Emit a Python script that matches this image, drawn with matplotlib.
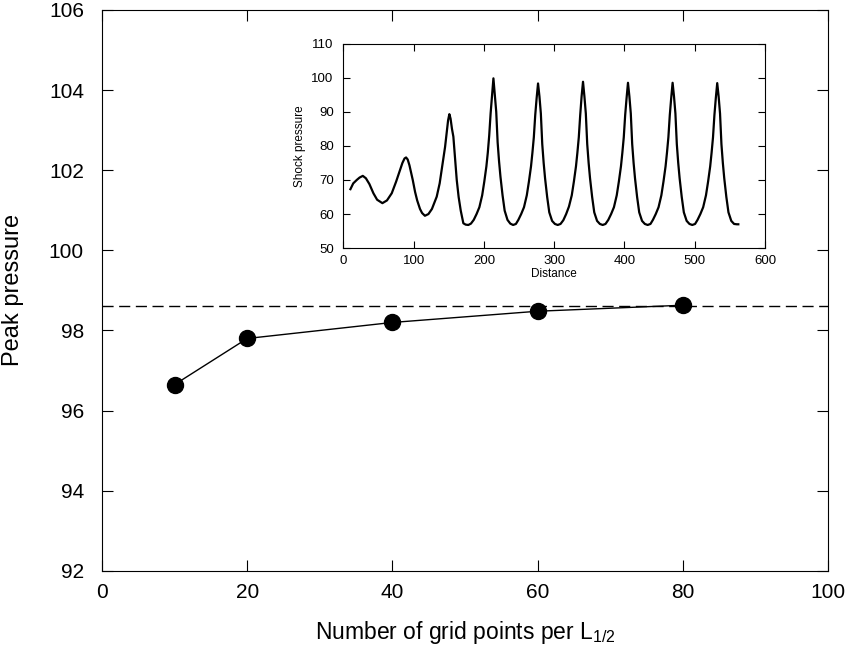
import matplotlib
matplotlib.use("Agg")
import matplotlib.pyplot as plt

plt.rcParams['font.family'] = ['Liberation Sans', 'DejaVu Sans']
plt.rcParams['mathtext.fontset'] = 'custom'
plt.rcParams['mathtext.rm'] = 'Liberation Sans'

# main data: peak pressure vs grid resolution
grid_points = [10, 20, 40, 60, 80]
peak_pressure = [96.65, 97.8, 98.2, 98.48, 98.63]
converged = 98.62

# inset data: shock pressure vs distance
distance = [10, 14, 19, 23, 27.6, 32, 37, 42.7, 48, 55.5, 62, 68.8, 75, 80, 84, 87, 89.2,
            91.5, 94, 96.5, 98.7, 102, 105, 109, 112, 116, 121, 126, 132.8, 137, 141,
            144.7, 147, 149, 150.8, 152.5, 154.5, 156.5, 159, 161.3, 164, 167, 170.7,
            174, 177.8, 181.5,
            185.5, 189.5, 193.5, 197.5, 200.5, 203.5, 205.5, 207.5, 209.5, 211.5, 213.5,
            215.5, 217.5, 219.5, 221.5, 223.5, 226.5, 229.5, 233.5, 237.5, 241.5, 245.5,
            249, 253, 257, 261, 264, 267, 269, 271, 273, 275, 277,
            279, 281, 283, 285, 287, 290, 293, 297, 301, 305, 309,
            313, 317, 321, 325, 328, 331, 333, 335, 337, 339, 341,
            343, 345, 347, 349, 351, 354, 357, 361, 365, 369, 373,
            377, 381, 385, 389, 392, 395, 397, 399, 401, 403, 405,
            407, 409, 411, 413, 415, 418, 421, 425, 429, 433, 437,
            440.5, 444.5, 448.5, 452.5, 455.5, 458.5, 460.5, 462.5, 464.5, 466.5, 468.5,
            470.5, 472.5, 474.5, 476.5, 478.5, 481.5, 484.5, 488.5, 492.5, 496.5, 500.5,
            504, 508, 512, 516, 519, 522, 524, 526, 528, 530, 532,
            534, 536, 538, 540, 542, 545, 548, 552, 556, 560, 562]
shock = [67.3, 69, 70, 70.7, 71.2, 70.5, 68.8, 66.1, 64.2, 63.2, 64, 66.1, 69.5, 72.5, 75,
         76.3, 76.6, 76, 74.3, 72, 70, 66.5, 64, 61.5, 60.3, 59.5, 60, 61.5, 65.1, 69, 74.5,
         79.7, 84, 87.5, 89.3, 88, 85, 82.7, 76, 70, 65, 61, 57.3, 56.9, 56.8, 57.2,
         58.3, 60, 62, 65.5, 69.5, 74, 78, 83, 89.5, 94.5, 99.8,
         95, 90, 81, 75.5, 71, 65.5, 61, 58.3, 57.2, 56.8, 57.1,
         58.3, 60, 62, 65.5, 69.5, 74, 78, 82.5, 89, 94, 98.3,
         94.5, 89.5, 80.5, 75, 70.5, 65, 60.5, 58, 57.1, 56.8, 57.1,
         58.2, 60, 62.2, 65.5, 69.5, 74, 78, 82.5, 89, 94.5, 98.8,
         94.5, 89.5, 80.5, 75, 70.5, 65, 60.5, 58, 57.1, 56.8, 57.1,
         58.3, 60, 62, 65.5, 69.5, 74, 78, 82.5, 89, 94, 98.5,
         94.5, 89.5, 80.5, 75, 70.5, 65, 60.5, 58, 57.1, 56.8, 57.1,
         58.3, 60, 62, 65.5, 69.5, 74, 78, 82.5, 89, 94, 98.5,
         94.5, 89.5, 80.5, 75, 70.5, 65, 60.5, 58, 57.1, 56.8, 57.1,
         58.3, 60, 62, 65.5, 69.5, 74, 78, 82.5, 89, 94, 98.4,
         94.5, 89.5, 80.5, 75, 70.5, 65, 60.5, 58, 57.1, 57, 57]

fig = plt.figure(figsize=(8.5, 6.6), dpi=100)
ax = fig.add_axes([0.12, 0.135, 0.854, 0.85])

ax.axhline(converged, color='black', lw=1, dashes=(8, 4))
ax.plot(grid_points, peak_pressure, '-o', color='black', lw=1, markersize=11.5)

ax.set_xlim(0, 100)
ax.set_ylim(92, 106)
ax.set_xticks(range(0, 101, 20))
ax.set_yticks(range(92, 107, 2))
ax.tick_params(direction='in', top=True, right=True, length=8, labelsize=15)
ax.tick_params(axis='x', pad=9)
ax.tick_params(axis='y', pad=13)
ax.set_xlabel('Number of grid points per L$_{\\mathregular{1/2}}$', fontsize=16.5, labelpad=12)
ax.set_ylabel('Peak pressure', fontsize=17, labelpad=18)

ins = fig.add_axes([0.404, 0.624, 0.496, 0.31])
ins.plot(distance, shock, color='black', lw=1.6)
ins.set_xlim(0, 600)
ins.set_ylim(50, 110)
ins.set_xticks(range(0, 601, 100))
ins.set_yticks(range(50, 111, 10))
ins.tick_params(direction='in', top=True, right=True, length=5, labelsize=9.5)
ins.tick_params(axis='x', pad=5)
ins.tick_params(axis='y', pad=7)
ins.set_xlabel('Distance', fontsize=8.5, labelpad=1)
ins.set_ylabel('Shock pressure', fontsize=8.5, labelpad=4)

fig.savefig('out.png', dpi=100)
